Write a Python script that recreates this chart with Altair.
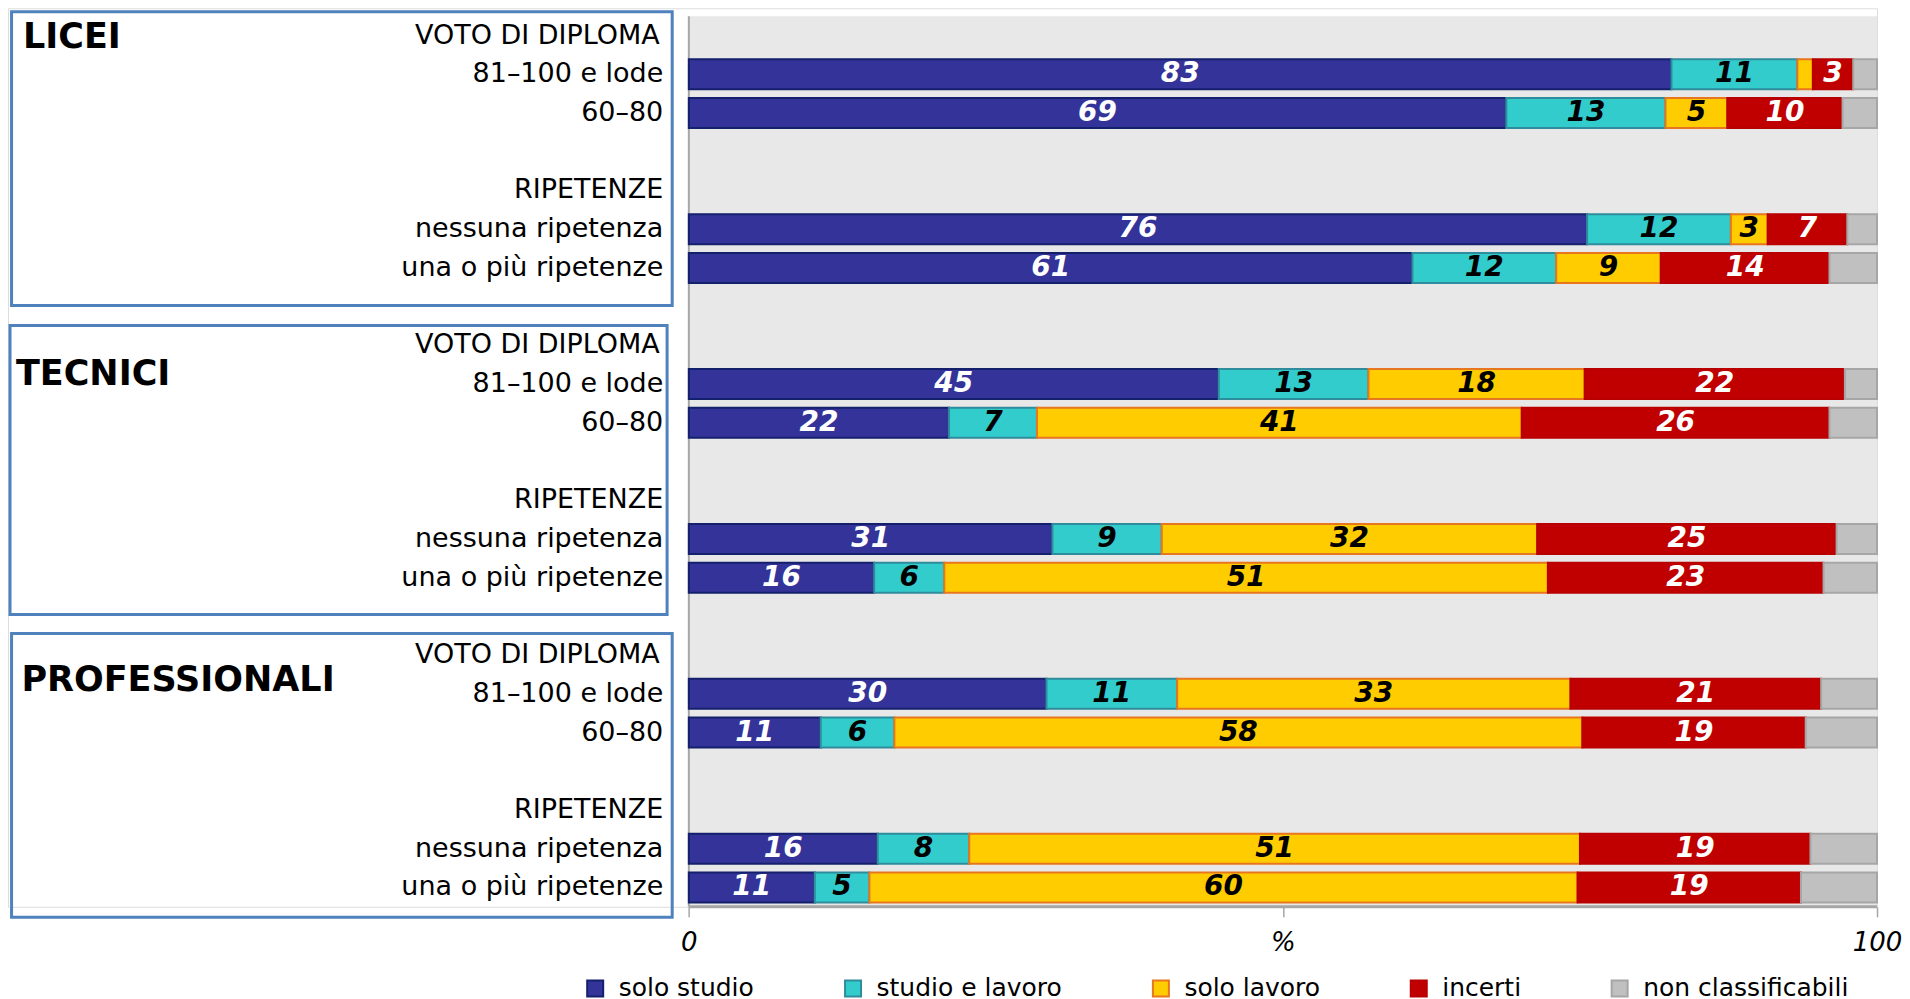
import altair as alt
import pandas as pd

# ---------------- data ----------------
groups = ["LICEI", "TECNICI", "PROFESSIONALI"]
section_headers = ["VOTO DI DIPLOMA", "RIPETENZE"]
subgroups = ["81–100 e lode", "60–80", "nessuna ripetenza", "una o più ripetenze"]
categories = ["solo studio", "studio e lavoro", "solo lavoro", "incerti", "non classificabili"]

# one value per bar: LICEI x4, TECNICI x4, PROFESSIONALI x4
solo_studio        = [82.7, 68.8, 75.6, 60.9, 44.6, 21.9, 30.6, 15.6, 30.1, 11.1, 15.9, 10.6]
studio_e_lavoro    = [10.6, 13.4, 12.1, 12.1, 12.6,  7.4,  9.2,  5.9, 11.0,  6.2,  7.7,  4.6]
solo_lavoro        = [ 1.3,  5.2,  3.1,  8.8, 18.2, 40.8, 31.6, 50.8, 33.1, 57.9, 51.4, 59.6]
incerti            = [ 3.4,  9.7,  6.7, 14.2, 21.9, 25.9, 25.2, 23.2, 21.1, 18.8, 19.4, 18.8]
non_classificabili = [ 2.0,  2.9,  2.5,  4.0,  2.7,  4.0,  3.4,  4.5,  4.7,  6.0,  5.6,  6.4]

axis_values = [0, 50, 100]
axis_tick_labels = ["0", "%", "100"]

# ---------------- styles / layout ----------------
FONT = "DejaVu Sans"
fill_colors = ["#333399", "#33CCCC", "#FFCC00", "#C00000", "#C0C0C0"]
stroke_colors = ["#14206B", "#2E8C9C", "#E8761E", "#B80000", "#A6A6A6"]
label_colors = ["white", "black", "black", "white", "black"]

ROWS_PER_GROUP = 8
header_rows = [0, 4]
sub_rows = [1, 2, 5, 6]
X_DOMAIN = [-57.3, 100]
Y_DOMAIN = [-0.7065, 22.5]   # top margin above the grey panel holds the first box
PANEL_Y = [-0.5, 22.5]
HEADER_LABEL_X = -2.45
SUB_LABEL_X = -2.15
boxes_layout = [(-57.0, -1.4, -0.616, 6.973),
                (-57.13, -1.83, 7.489, 14.949),
                (-57.0, -1.4, 15.44, 22.77)]
titles_layout = [(-56.04, 0.04), (-56.63, 8.74), (-56.17, 16.64)]

series = [solo_studio, studio_e_lavoro, solo_lavoro, incerti, non_classificabili]

# ---------------- tables ----------------
bar_rows = []
for i in range(len(solo_studio)):
    g, s = divmod(i, 4)
    row = g * ROWS_PER_GROUP + sub_rows[s]
    start = 0.0
    for k, cat in enumerate(categories):
        v = series[k][i]
        bar_rows.append({"row": row, "cat": cat, "val": v, "x0": start,
                         "x1": start + v, "mid": start + v / 2, "k": k})
        start += v
bars_df = pd.DataFrame(bar_rows)
labels_df = bars_df[(bars_df["cat"] != categories[-1]) & (bars_df["val"] >= 2)]

text_rows = []
for g in range(len(groups)):
    base = g * ROWS_PER_GROUP
    text_rows.append({"row": base + header_rows[0], "t": section_headers[0], "x": HEADER_LABEL_X})
    text_rows.append({"row": base + sub_rows[0], "t": subgroups[0], "x": SUB_LABEL_X})
    text_rows.append({"row": base + sub_rows[1], "t": subgroups[1], "x": SUB_LABEL_X})
    text_rows.append({"row": base + header_rows[1], "t": section_headers[1], "x": SUB_LABEL_X})
    text_rows.append({"row": base + sub_rows[2], "t": subgroups[2], "x": SUB_LABEL_X})
    text_rows.append({"row": base + sub_rows[3], "t": subgroups[3], "x": SUB_LABEL_X})
text_df = pd.DataFrame(text_rows)

titles_df = pd.DataFrame([{"t": groups[g], "x": titles_layout[g][0], "row": titles_layout[g][1]}
                          for g in range(len(groups))])
boxes_df = pd.DataFrame([{"x0": b[0], "x1": b[1], "y0": b[2], "y1": b[3]} for b in boxes_layout])
bg_df = pd.DataFrame([{"x0": axis_values[0], "x1": axis_values[-1], "y0": PANEL_Y[0], "y1": PANEL_Y[1]}])

# ---------------- scales / axes ----------------
label_expr = "''"
for v, lab in reversed(list(zip(axis_values, axis_tick_labels))):
    label_expr = f"datum.value == {v} ? '{lab}' : ({label_expr})"

xscale = alt.Scale(domain=X_DOMAIN, nice=False, zero=False, padding=0)
yscale = alt.Scale(domain=Y_DOMAIN, nice=False, zero=False, reverse=True, padding=0)
xaxis = alt.Axis(values=axis_values, labelExpr=label_expr, title=None, domain=False, grid=False,
                 ticks=True, tickSize=10, tickColor="#A6A6A6", tickWidth=1.5,
                 labelFont=FONT, labelFontSize=26, labelFontStyle="italic", labelColor="black",
                 labelPadding=13, labelFlush=False, labelOverlap=False)


def X(field):
    return alt.X(f"{field}:Q", scale=xscale, axis=xaxis)


def Y(field):
    return alt.Y(f"{field}:Q", scale=yscale, axis=None)


leg = alt.Legend(title=None, orient="none", legendX=575, legendY=968, direction="horizontal",
                 columns=5, columnPadding=86, symbolType="square", symbolSize=256,
                 symbolStrokeWidth=2, labelFont=FONT, labelFontSize=25, labelColor="black",
                 labelOffset=11, padding=0, labelLimit=400)

# ---------------- layers ----------------
background = alt.Chart(bg_df).mark_rect(fill="#E8E8E8").encode(
    x=X("x0"), x2="x1", y=Y("y0"), y2="y1")

left_line = alt.Chart(bg_df).mark_rule(color="#A6A6A6", strokeWidth=2).encode(
    x=X("x0"), y=Y("y0"), y2="y1")

base_line = alt.Chart(bg_df).mark_rule(color="#A6A6A6", strokeWidth=3).encode(
    x=X("x0"), x2="x1", y=Y("y1"))

boxes = alt.Chart(boxes_df).mark_rect(filled=False, stroke="#4F81BD", strokeWidth=3).encode(
    x=X("x0"), x2="x1", y=Y("y0"), y2="y1")

bars = alt.Chart(bars_df).mark_bar(size=30, orient="horizontal", strokeWidth=2).encode(
    x=X("x0"), x2="x1", y=Y("row"),
    fill=alt.Fill("cat:N", scale=alt.Scale(domain=categories, range=fill_colors), legend=leg),
    stroke=alt.Stroke("cat:N", scale=alt.Scale(domain=categories, range=stroke_colors), legend=leg),
    order=alt.Order("k:Q"),
)

value_labels = alt.Chart(labels_df).mark_text(
    font=FONT, fontSize=28, fontWeight="bold", fontStyle="italic", baseline="middle", align="center"
).encode(
    x=X("mid"), y=Y("row"),
    text=alt.Text("val:Q", format=".0f"),
    color=alt.Color("cat:N", scale=alt.Scale(domain=categories, range=label_colors), legend=None),
)

row_labels = alt.Chart(text_df).mark_text(
    font=FONT, fontSize=27, align="right", baseline="middle", color="black"
).encode(x=X("x"), y=Y("row"), text="t:N")

group_titles = alt.Chart(titles_df).mark_text(
    font=FONT, fontSize=35, fontWeight="bold", align="left", baseline="middle", color="black"
).encode(x=X("x"), y=Y("row"), text="t:N")

chart = alt.layer(
    background, left_line, base_line, boxes, bars, value_labels, row_labels, group_titles
).properties(
    width=1870, height=899,
    padding={"left": 0, "top": 0, "right": 0, "bottom": 0},
).configure_view(strokeWidth=0).configure(background="white")

chart.save("out.html", embed_options={"renderer": "svg", "actions": False})
